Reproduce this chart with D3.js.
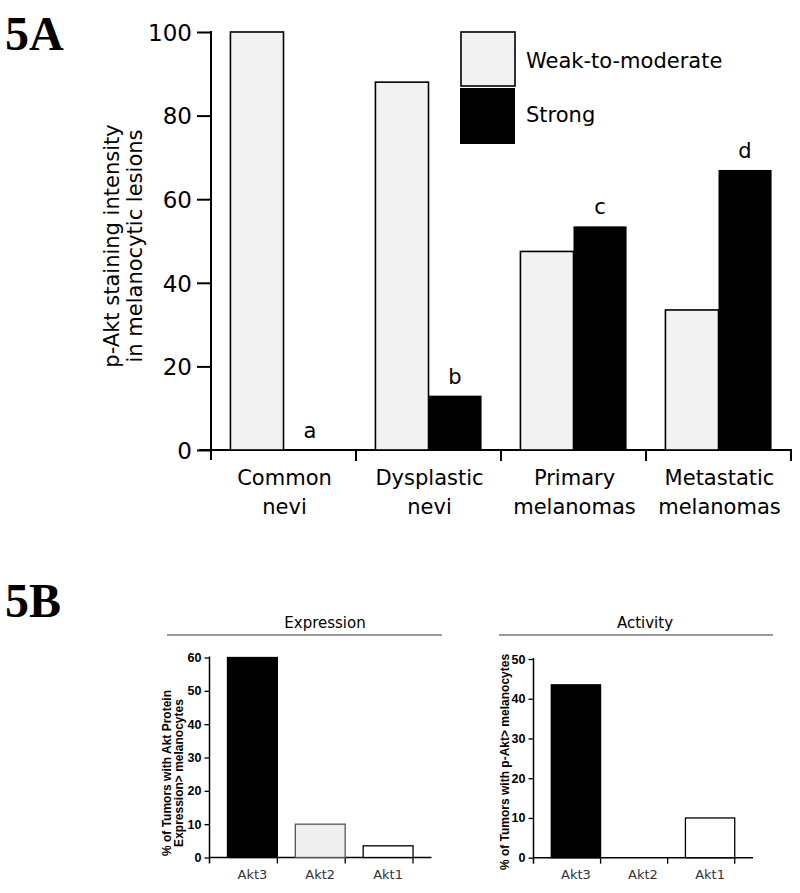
<!DOCTYPE html>
<html lang="en">
  <head>
    <meta charset="UTF-8" />
    <script src="https://d3js.org/d3.v7.min.js"></script>
    <title>p-Akt staining</title>
    <style>
      body { margin: 0; background: #fff; }
    </style>
  </head>
  <body>
    <div id="fig"></div>
    <script>
      // panel 5A data
      const lesionCats = ["Common nevi", "Dysplastic nevi", "Primary melanomas", "Metastatic melanomas"];
      const lesionLines = [["Common", "nevi"], ["Dysplastic", "nevi"], ["Primary", "melanomas"], ["Metastatic", "melanomas"]];
      const seriesNames = ["Weak-to-moderate", "Strong"];
      const weakVals = [100, 88, 47.5, 33.5];
      const strongVals = [0, 13, 53.5, 67];
      const sigLetters = ["a", "b", "c", "d"];
      const ticksA = [0, 20, 40, 60, 80, 100];

      // panel 5B data
      const aktCats = ["Akt3", "Akt2", "Akt1"];
      const exprVals = [60, 10, 3.5];
      const actVals = [43.5, 0, 10];
      const exprTicks = [0, 10, 20, 30, 40, 50, 60];
      const actTicks = [0, 10, 20, 30, 40, 50];

      const W = 800, H = 893;
      const sans = "DejaVu Sans, Verdana, sans-serif";
      const arial = "Liberation Sans, Arial, sans-serif";

      const svg = d3.select("#fig").append("svg")
        .attr("width", W).attr("height", H);

      // big panel letters
      svg.append("text").attr("x", 5).attr("y", 50)
        .style("font", "bold 48px 'Liberation Serif', serif").text("5A");
      svg.append("text").attr("x", 5).attr("y", 617)
        .style("font", "bold 48px 'Liberation Serif', serif").text("5B");

      // ---------- 5A ----------
      const y = d3.scaleLinear().domain([0, 100]).range([450, 32]);
      const x = d3.scaleBand().domain(lesionCats).range([211, 791]);
      const x1 = d3.scaleBand().domain(seriesNames).range([0, x.bandwidth()])
        .paddingInner(0).paddingOuter(0.366);

      const gA = svg.append("g");

      const yAx = gA.append("g").attr("transform", "translate(211,0)")
        .call(d3.axisLeft(y).tickValues(ticksA).tickSize(14).tickSizeOuter(0).tickPadding(5));
      yAx.select(".domain").remove();
      yAx.selectAll("line").attr("stroke-width", 2);
      yAx.selectAll("text").style("font", "23px " + sans).attr("dy", "0.36em");
      gA.append("line").attr("x1", 211).attr("x2", 211)
        .attr("y1", y(100) - 1).attr("y2", y(0) + 10)
        .attr("stroke", "#000").attr("stroke-width", 2);

      // x axis
      gA.append("line").attr("x1", 199).attr("x2", x.range()[1] + 1)
        .attr("y1", y(0)).attr("y2", y(0))
        .attr("stroke", "#000").attr("stroke-width", 2);
      const edges = lesionCats.map(c => x(c) + x.bandwidth());
      gA.selectAll(".xt").data(edges).join("line")
        .attr("x1", d => d).attr("x2", d => d)
        .attr("y1", y(0)).attr("y2", y(0) + 11)
        .attr("stroke", "#000").attr("stroke-width", 2);

      gA.selectAll(".catlab").data(lesionCats).join("text")
        .attr("text-anchor", "middle")
        .attr("x", d => x(d) + x.bandwidth() / 2 + 1)
        .attr("y", 485)
        .style("font", "21px " + sans)
        .selectAll("tspan").data((d, i) => lesionLines[i]).join("tspan")
        .attr("x", function () { return d3.select(this.parentNode).attr("x"); })
        .attr("dy", (d, i) => i === 0 ? 0 : 29)
        .text(d => d);

      const rows = lesionCats.map((c, i) => ({ cat: c, vals: [weakVals[i], strongVals[i]], sig: sigLetters[i] }));
      const grp = gA.selectAll(".grp").data(rows).join("g")
        .attr("transform", d => `translate(${x(d.cat)},0)`);
      grp.selectAll("rect").data(d => d.vals.map((v, k) => ({ s: seriesNames[k], v })))
        .join("rect")
        .attr("x", d => x1(d.s))
        .attr("y", d => y(d.v))
        .attr("width", x1.bandwidth())
        .attr("height", d => y(0) - y(d.v))
        .attr("fill", d => d.s === "Strong" ? "#000" : "#f2f2f2")
        .attr("stroke", "#000")
        .attr("stroke-width", d => d.s === "Strong" ? 0 : 1.6);
      grp.append("text")
        .attr("text-anchor", "middle")
        .attr("x", x1("Strong") + x1.bandwidth() / 2)
        .attr("y", d => y(d.vals[1]) - 12)
        .style("font", "21px " + sans)
        .text(d => d.sig);

      // y title
      gA.append("text")
        .attr("transform", "translate(119,246) rotate(-90)")
        .attr("text-anchor", "middle")
        .style("font", "21px " + sans)
        .selectAll("tspan").data(["p-Akt staining intensity", "in melanocytic lesions"]).join("tspan")
        .attr("x", 0).attr("dy", (d, i) => i === 0 ? 0 : 23).text(d => d);

      // legend
      const leg = gA.append("g");
      leg.append("rect").attr("x", 461).attr("y", 32).attr("width", 54).attr("height", 54)
        .attr("fill", "#f2f2f2").attr("stroke", "#000").attr("stroke-width", 1.6);
      leg.append("rect").attr("x", 460).attr("y", 88).attr("width", 55).attr("height", 56)
        .attr("fill", "#000");
      leg.selectAll(".lt").data(seriesNames).join("text")
        .attr("x", 526).attr("y", (d, i) => 68 + i * 54)
        .style("font", "21px " + sans).text(d => d);

      // ---------- 5B ----------
      function smallPanel(o) {
        const g = svg.append("g");
        const yy = d3.scaleLinear().domain([0, o.max]).range([o.y0, o.y1]);
        const xx = d3.scaleBand().domain(aktCats).range([o.x0, o.x1]).padding(0.265);

        g.append("text").attr("x", o.tx).attr("y", 628).attr("text-anchor", "middle")
          .style("font", "15px " + sans).text(o.title);
        g.append("line").attr("x1", o.lx0).attr("x2", o.lx1).attr("y1", 635).attr("y2", 635)
          .attr("stroke", "#9a9a9a").attr("stroke-width", 2);

        const ya = g.append("g").attr("transform", `translate(${o.x0},0)`)
          .call(d3.axisLeft(yy).tickValues(o.ticks).tickSize(5).tickSizeOuter(0).tickPadding(3));
        ya.select(".domain").remove();
        ya.selectAll("line").attr("stroke-width", 1.3);
        ya.selectAll("text").style("font", "bold 12.5px " + arial);
        g.append("line").attr("x1", o.x0).attr("x2", o.x0).attr("y1", yy(o.max) - 1).attr("y2", o.y0 + 6)
          .attr("stroke", "#000").attr("stroke-width", 1.5);
        g.append("line").attr("x1", o.x0).attr("x2", o.x1 + 0.5).attr("y1", o.y0).attr("y2", o.y0)
          .attr("stroke", "#000").attr("stroke-width", 1.5);
        const step = xx.step();
        g.selectAll(".bt").data(aktCats).join("line")
          .attr("x1", d => xx(d) - xx.paddingOuter() * step + step)
          .attr("x2", d => xx(d) - xx.paddingOuter() * step + step)
          .attr("y1", o.y0).attr("y2", o.y0 + 6)
          .attr("stroke", "#000").attr("stroke-width", 1.3);

        g.selectAll(".bar").data(o.vals).join("rect")
          .attr("x", (d, i) => xx(aktCats[i]))
          .attr("y", d => yy(d))
          .attr("width", xx.bandwidth())
          .attr("height", d => o.y0 - yy(d))
          .attr("fill", (d, i) => o.fills[i])
          .attr("stroke", (d, i) => o.strokes[i])
          .attr("stroke-width", d => d > 0 ? 1.3 : 0);

        g.selectAll(".cl").data(aktCats).join("text")
          .attr("x", d => xx(d) + xx.bandwidth() / 2).attr("y", 879)
          .attr("text-anchor", "middle")
          .style("font", "13px " + sans).attr("fill", "#333").text(d => d);

        g.append("text")
          .attr("transform", `translate(${o.ttx},${o.tty}) rotate(-90)`)
          .attr("text-anchor", "middle")
          .style("font", "bold 12px " + arial)
          .selectAll("tspan").data(o.ylabel).join("tspan")
          .attr("x", 0).attr("dy", (d, i) => i === 0 ? 0 : 11.5).text(d => d);
      }

      smallPanel({
        title: "Expression", tx: 325, lx0: 167, lx1: 442,
        x0: 209.5, x1: 431, y0: 857.5, y1: 657.5, max: 60,
        ticks: exprTicks, vals: exprVals,
        fills: ["#000", "#efefef", "#fff"], strokes: ["#000", "#555", "#000"],
        ylabel: ["% of Tumors with Akt Protein", "Expression> melanocytes"], ttx: 171, tty: 773
      });
      smallPanel({
        title: "Activity", tx: 645, lx0: 499, lx1: 773,
        x0: 533.5, x1: 752.5, y0: 857.7, y1: 659, max: 50,
        ticks: actTicks, vals: actVals,
        fills: ["#000", "#efefef", "#fff"], strokes: ["#000", "#555", "#000"],
        ylabel: ["% of Tumors with p-Akt> melanocytes"], ttx: 508.5, tty: 762
      });
    </script>
  </body>
</html>
